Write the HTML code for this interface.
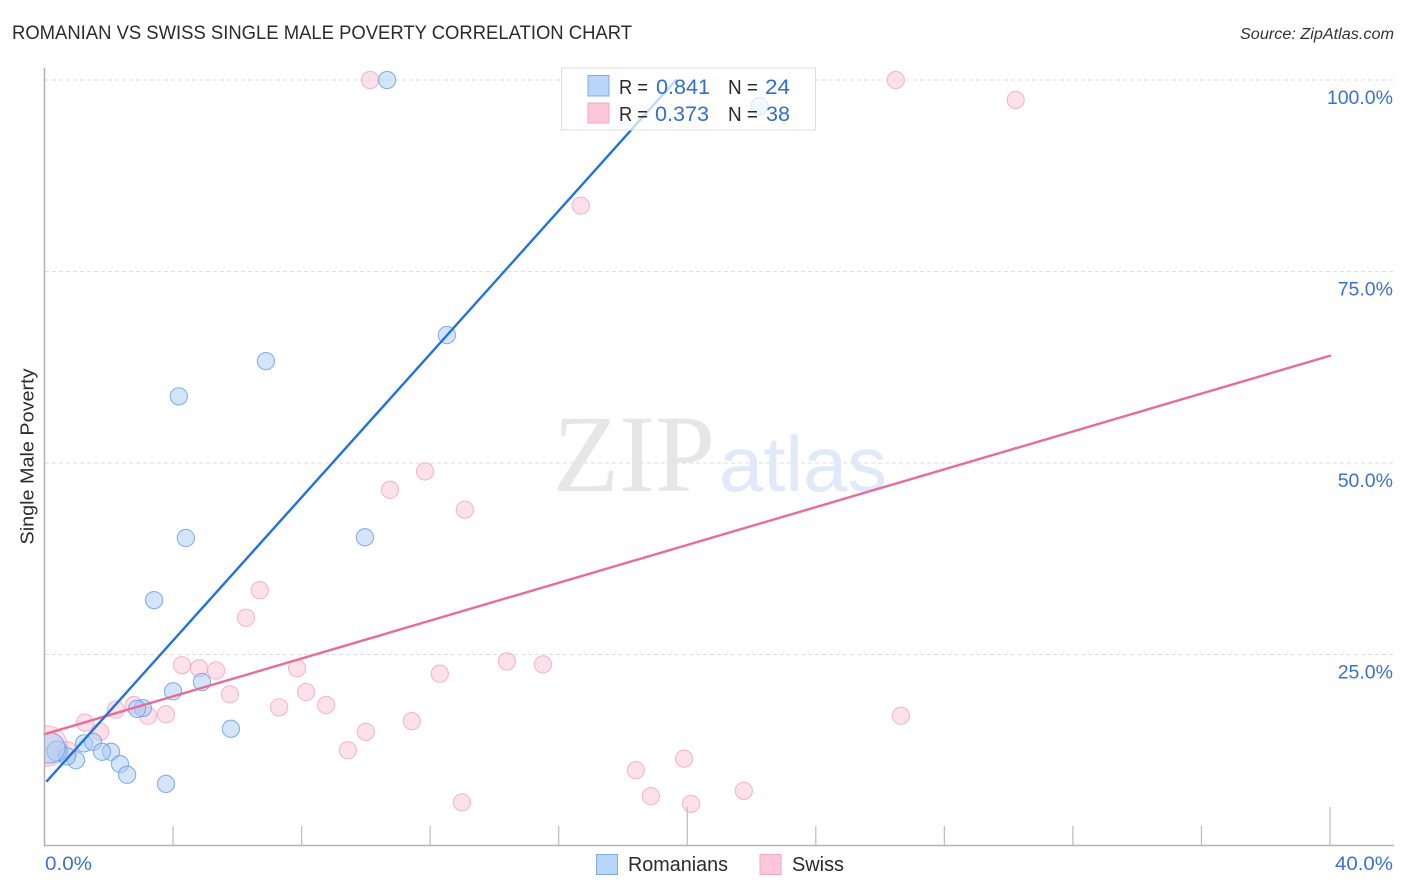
<!DOCTYPE html>
<html>
<head>
<meta charset="utf-8">
<title>Romanian vs Swiss Single Male Poverty Correlation Chart</title>
<style>
html,body{margin:0;padding:0;background:#fff;width:1406px;height:892px;overflow:hidden}
svg{display:block;font-family:"Liberation Sans",sans-serif}
</style>
</head>
<body>
<svg id="chart" width="1406" height="892" viewBox="0 0 1406 892" xmlns="http://www.w3.org/2000/svg">
  <rect x="0" y="0" width="1406" height="892" fill="#ffffff"/>
  <g id="grid"></g>
  <g>
    <text x="553" y="491" font-family="'Liberation Serif',serif" font-size="110" fill="#e6e6e6" textLength="162" lengthAdjust="spacingAndGlyphs">ZIP</text>
    <text x="719" y="491" font-size="78" fill="#dfe9f9" textLength="168" lengthAdjust="spacingAndGlyphs">atlas</text>
  </g>
  <g id="pink-points"></g>
  <g id="blue-points"></g>
  <rect x="0" y="60" width="45" height="800" fill="#ffffff"/>
  <g id="trends"></g>
  <g id="axes"></g>
  <text x="12" y="39" font-size="19" fill="#2b2b2b" textLength="620" lengthAdjust="spacingAndGlyphs">ROMANIAN VS SWISS SINGLE MALE POVERTY CORRELATION CHART</text>
  <text x="1394" y="39" font-size="15.5" font-style="italic" fill="#333" text-anchor="end" textLength="154" lengthAdjust="spacingAndGlyphs">Source: ZipAtlas.com</text>
  <text transform="translate(33.5,456.5) rotate(-90)" font-size="18.5" fill="#2b2b2b" text-anchor="middle" textLength="176" lengthAdjust="spacingAndGlyphs">Single Male Poverty</text>
  <g>
    <rect x="561.5" y="68" width="254" height="62" fill="#ffffff" fill-opacity="0.72" stroke="#dcdcdc" stroke-width="1"/>
    <rect x="588" y="75.500" width="21" height="20.500" fill="#b9d5f9" stroke="#7fabe6" stroke-width="1"/>
    <rect x="588" y="103" width="21" height="20" fill="#fcc8d9" stroke="#f1a9c0" stroke-width="1"/>
    <text x="619" y="94" font-size="20" fill="#2b2b2b" textLength="29" lengthAdjust="spacingAndGlyphs">R =</text>
    <text x="656" y="94" font-size="21" fill="#2f6fd0" textLength="54" lengthAdjust="spacingAndGlyphs">0.841</text>
    <text x="728" y="94" font-size="20" fill="#2b2b2b" textLength="30" lengthAdjust="spacingAndGlyphs">N =</text>
    <text x="765" y="94" font-size="21" fill="#2f6fd0" textLength="25" lengthAdjust="spacingAndGlyphs">24</text>
    <text x="619" y="121" font-size="20" fill="#2b2b2b" textLength="29" lengthAdjust="spacingAndGlyphs">R =</text>
    <text x="655" y="121" font-size="21" fill="#2f6fd0" textLength="54" lengthAdjust="spacingAndGlyphs">0.373</text>
    <text x="728" y="121" font-size="20" fill="#2b2b2b" textLength="30" lengthAdjust="spacingAndGlyphs">N =</text>
    <text x="766" y="121" font-size="21" fill="#2f6fd0" textLength="24" lengthAdjust="spacingAndGlyphs">38</text>
  </g>
  <g>
    <rect x="596.500" y="854.500" width="21" height="20" fill="#b9d5f9" stroke="#7fabe6" stroke-width="1"/>
    <text x="628" y="871" font-size="20" fill="#2b2b2b" textLength="100" lengthAdjust="spacingAndGlyphs">Romanians</text>
    <rect x="760" y="854.500" width="21" height="20" fill="#fcc8d9" stroke="#f1a9c0" stroke-width="1"/>
    <text x="792" y="871" font-size="20" fill="#2b2b2b" textLength="52" lengthAdjust="spacingAndGlyphs">Swiss</text>
  </g>
</svg>
<script>
var xTickValues = [4, 8, 12, 16, 20, 24, 28, 32, 36, 40];
var yTickValues = [25, 50, 75, 100];
var yTickLabels = ["25.0%", "50.0%", "75.0%", "100.0%"];
var xEndLabels = ["0.0%", "40.0%"];

var romanianX = [10.66, 22.25, 12.52, 6.89, 4.18, 4.40, 9.97, 3.41, 4.00, 4.90, 3.06, 2.88, 5.80, 1.23, 1.51, 2.07, 1.79, 2.35, 2.57, 3.78, 0.98, 0.70, 0.39, 0.17];
var romanianY = [100, 96.6, 66.7, 63.3, 58.7, 40.2, 40.3, 32.1, 20.2, 21.4, 18.0, 17.9, 15.3, 13.4, 13.6, 12.3, 12.3, 10.7, 9.3, 8.1, 11.2, 11.7, 12.4, 12.8];
var romanianWeight = [1, 1, 1, 1, 1, 1, 1, 1, 1, 1, 1, 1, 1, 1, 1, 1, 1, 1, 1, 1, 1, 1, 1.4, 3.1];

var swissX = [10.13, 26.49, 30.22, 16.69, 11.84, 10.75, 13.08, 6.70, 6.27, 14.39, 15.51, 12.30, 4.28, 4.81, 5.34, 7.86, 5.77, 8.14, 8.76, 7.30, 2.78, 2.22, 3.22, 3.78, 1.26, 1.73, 11.43, 10.00, 9.44, 26.65, 19.90, 18.40, 21.76, 18.87, 20.12, 12.99, 0.70, 0.08];
var swissY = [100, 100, 97.4, 83.6, 48.9, 46.5, 43.9, 33.4, 29.8, 24.1, 23.7, 22.5, 23.6, 23.2, 22.9, 23.2, 19.8, 20.1, 18.4, 18.1, 18.4, 17.8, 17.0, 17.2, 16.1, 14.9, 16.3, 14.9, 12.5, 17.0, 11.4, 9.9, 7.2, 6.5, 5.5, 5.7, 12.3, 13.05];
var swissWeight = [1, 1, 1, 1, 1, 1, 1, 1, 1, 1, 1, 1, 1, 1, 1, 1, 1, 1, 1, 1, 1, 1, 1, 1, 1, 1, 1, 1, 1, 1, 1, 1, 1, 1, 1, 1, 1.4, 5.5];

var romanianTrendX = [0.08, 19.65];
var romanianTrendY = [8.49, 100];
var swissTrendX = [0, 40];
var swissTrendY = [14.6, 64];

var NS = "http://www.w3.org/2000/svg";
function xScale(v) { return 44.5 + v * (1330 - 44.5) / 40; }
function yScale(v) { return 846 - v * (846 - 80) / 100; }
function rScale(w) { return 8.6 * Math.sqrt(w); }
function make(tag, parent, attrs) {
  var el = document.createElementNS(NS, tag);
  for (var k in attrs) { el.setAttribute(k, attrs[k]); }
  parent.appendChild(el);
  return el;
}

var grid = document.getElementById("grid");
var axes = document.getElementById("axes");
yTickValues.forEach(function (v, i) {
  var line = make("line", grid, { x1: 45, x2: 1394, y1: yScale(v), y2: yScale(v), stroke: "#dedede", "stroke-width": 1, "stroke-dasharray": "4 3" });
  
  
  var label = make("text", axes, { x: 1393, y: yScale(v) + 24, "text-anchor": "end", "font-size": 19.5, fill: "#3b72cf" });
  label.textContent = yTickLabels[i];
  
  
});

var yAxis = make("line", axes, { x1: 44.5, x2: 44.5, y1: 68, y2: 846.5, stroke: "#b0b0b0", "stroke-width": 1.5 });


var xAxis = make("line", axes, { x1: 44, x2: 1394, y1: 845.5, y2: 845.5, stroke: "#b4b4b4", "stroke-width": 1.5 });



xTickValues.forEach(function (v) {
  var top = v % 20 === 0 ? 807 : 826;
  var tick = make("line", axes, { x1: xScale(v), x2: xScale(v), y1: top, y2: 845, stroke: "#bcbcbc", "stroke-width": 1.2 });
  
  
});

var xLabelStart = make("text", axes, { x: 45, y: 870, "font-size": 19.5, fill: "#3b72cf", textLength: 47, lengthAdjust: "spacingAndGlyphs" });
xLabelStart.textContent = xEndLabels[0];


var xLabelEnd = make("text", axes, { x: 1393, y: 870, "text-anchor": "end", "font-size": 19.5, fill: "#3b72cf", textLength: 58, lengthAdjust: "spacingAndGlyphs" });
xLabelEnd.textContent = xEndLabels[1];



var pinkGroup = document.getElementById("pink-points");
swissX.forEach(function (v, i) {
  var c = make("circle", pinkGroup, { cx: xScale(v), cy: yScale(swissY[i]), r: rScale(swissWeight[i]), fill: "#f9bcd0", "fill-opacity": 0.45, stroke: "#eea6bd", "stroke-opacity": 0.75, "stroke-width": 1.1 });
  
  
});

var blueGroup = document.getElementById("blue-points");
romanianX.forEach(function (v, i) {
  var c = make("circle", blueGroup, { cx: xScale(v), cy: yScale(romanianY[i]), r: rScale(romanianWeight[i]), fill: "#a9ccf6", "fill-opacity": 0.5, stroke: "#6a9fe6", "stroke-opacity": 0.8, "stroke-width": 1.1 });
  
  
});

var trends = document.getElementById("trends");
var swissLine = make("line", trends, { x1: xScale(swissTrendX[0]), y1: yScale(swissTrendY[0]), x2: xScale(swissTrendX[1]), y2: yScale(swissTrendY[1]), stroke: "#e96b98", "stroke-width": 2.4, "stroke-linecap": "round" });


var romanianLine = make("line", trends, { x1: xScale(romanianTrendX[0]), y1: yScale(romanianTrendY[0]), x2: xScale(romanianTrendX[1]), y2: yScale(romanianTrendY[1]), stroke: "#2272dc", "stroke-width": 2.4, "stroke-linecap": "round" });


</script>
</body>
</html>
